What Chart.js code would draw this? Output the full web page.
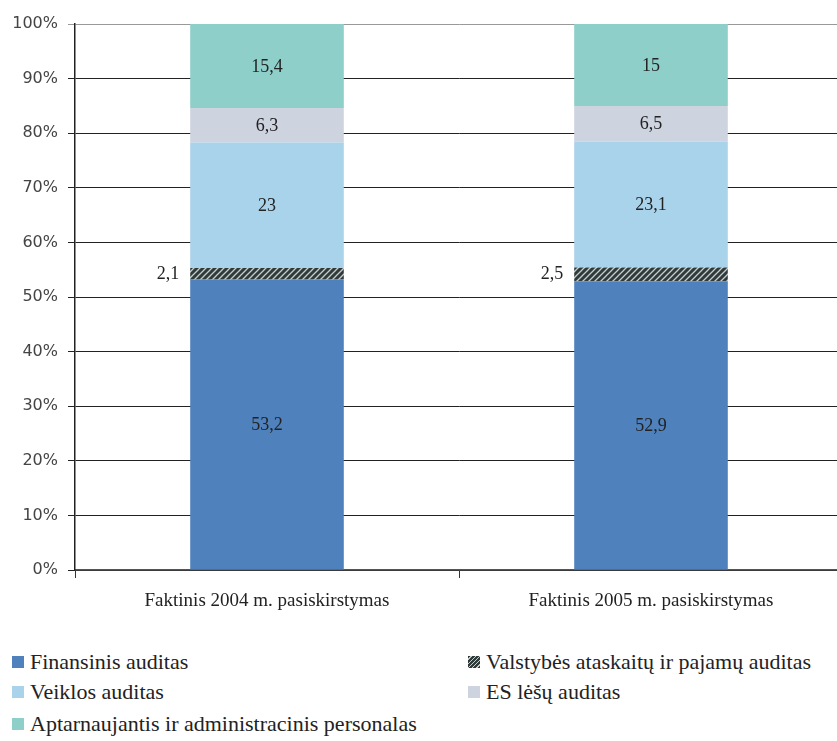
<!DOCTYPE html>
<html>
<head>
<meta charset="utf-8">
<script src="https://cdn.jsdelivr.net/npm/chart.js@4"></script>
<style>
  html, body { margin: 0; padding: 0; background: #fff; overflow: hidden; width: 837px; height: 741px; }
  #wrap { position: absolute; left: 0; top: 0; width: 850px; height: 630px; }
  #legend { position: absolute; left: 12px; top: 0; width: 825px; font-family: "Liberation Serif", "DejaVu Serif", serif; font-size: 22px; color: #222; }
  .item { position: absolute; display: flex; align-items: center; white-space: nowrap; height: 26px; line-height: 26px; }
  .sw { width: 12px; height: 12px; margin-right: 6px; }
</style>
</head>
<body>
<div id="wrap"><canvas id="c"></canvas></div>
<div id="legend"></div>
<script>
const categories = ["Faktinis 2004 m. pasiskirstymas", "Faktinis 2005 m. pasiskirstymas"];
const seriesNames = ["Finansinis auditas", "Valstybės ataskaitų ir pajamų auditas", "Veiklos auditas", "ES lėšų auditas", "Aptarnaujantis ir administracinis personalas"];
const finansinis = [53.2, 52.9];
const valstybes = [2.1, 2.5];
const veiklos = [23, 23.1];
const esLesu = [6.3, 6.5];
const aptarnaujantis = [15.4, 15];
const yTicks = [0, 10, 20, 30, 40, 50, 60, 70, 80, 90, 100];

const colors = ["#4F81BD", null, "#A9D3EA", "#CDD3DF", "#8ECFCA"];

function hatch() {
  const p = document.createElement("canvas");
  p.width = 6; p.height = 6;
  const g = p.getContext("2d");
  g.fillStyle = "#2f3b3b";
  g.fillRect(0, 0, 6, 6);
  g.strokeStyle = "#c8cccc";
  g.lineWidth = 1.3;
  g.beginPath();
  g.moveTo(-1, 7); g.lineTo(7, -1);
  g.moveTo(-1, 1); g.lineTo(1, -1);
  g.moveTo(5, 7); g.lineTo(7, 5);
  g.stroke();
  return g.createPattern(p, "repeat");
}
colors[1] = hatch();

const seriesData = [finansinis, valstybes, veiklos, esLesu, aptarnaujantis];

const fmt = v => String(v).replace(".", ",");

const labelPlugin = {
  id: "segLabels",
  afterDatasetsDraw(chart) {
    const ctx = chart.ctx;
    ctx.save();
    ctx.font = '18px "Liberation Serif", serif';
    ctx.fillStyle = "#222";
    ctx.textBaseline = "middle";
    chart.data.datasets.forEach((ds, di) => {
      const meta = chart.getDatasetMeta(di);
      meta.data.forEach((bar, i) => {
        const v = ds.data[i];
        const cy = (bar.y + bar.base) / 2;
        if (di === 1) {
          ctx.textAlign = "right";
          ctx.fillText(fmt(v), bar.x - bar.width / 2 - 11, cy);
        } else {
          ctx.textAlign = "center";
          ctx.fillText(fmt(v), bar.x, cy + 1);
        }
      });
    });
    ctx.restore();
  }
};

new Chart(document.getElementById("c"), {
  type: "bar",
  data: {
    labels: categories,
    datasets: seriesNames.map((n, i) => ({
      label: n,
      data: seriesData[i],
      backgroundColor: colors[i],
      borderWidth: 0,
      barPercentage: 0.4,
      categoryPercentage: 1.0
    }))
  },
  options: {
    responsive: true,
    maintainAspectRatio: false,
    animation: false,
    events: [],
    layout: { padding: { top: 24, right: 7, left: 0, bottom: 0 } },
    plugins: { legend: { display: false }, tooltip: { enabled: false } },
    scales: {
      x: {
        stacked: true,
        border: { color: "#555", width: 1.5 },
        grid: { drawOnChartArea: false, drawTicks: true, tickLength: 8, color: "#333", offset: true },
        ticks: { color: "#222", font: { family: "Liberation Serif", size: 19 }, padding: 12 },
        afterFit(s) { s.height = 60; }
      },
      y: {
        stacked: true,
        min: 0, max: 100,
        afterBuildTicks(s) { s.ticks = yTicks.map(v => ({ value: v })); },
        border: { color: "#222", width: 1.5 },
        grid: { color: ctx => ctx.tick && ctx.tick.value === 100 ? "#999" : "#222", lineWidth: 1, tickLength: 7 },
        ticks: { color: "#444", font: { family: "DejaVu Sans", size: 16 }, padding: 10, callback: v => v + "%" },
        afterFit(s) { s.width = 75; }
      }
    }
  },
  plugins: [labelPlugin]
});

// HTML legend built from series
const legendPos = [[0, 662], [456, 662], [0, 692], [456, 692], [0, 724]];
const legendSw = ["#4F81BD", "hatch", "#A9D3EA", "#CDD3DF", "#8ECFCA"];
const lg = document.getElementById("legend");
seriesNames.forEach((n, i) => {
  const d = document.createElement("div");
  d.className = "item";
  d.style.left = legendPos[i][0] + "px";
  d.style.top = (legendPos[i][1] - 13) + "px";
  const s = document.createElement("span");
  s.className = "sw";
  if (legendSw[i] === "hatch") {
    s.style.background = "repeating-linear-gradient(-45deg, #2f3b3b 0 2px, #c8cccc 2px 3px)";
  } else {
    s.style.background = legendSw[i];
  }
  d.appendChild(s);
  const t = document.createElement("span");
  t.textContent = n;
  d.appendChild(t);
  lg.appendChild(d);
});
</script>
</body>
</html>
